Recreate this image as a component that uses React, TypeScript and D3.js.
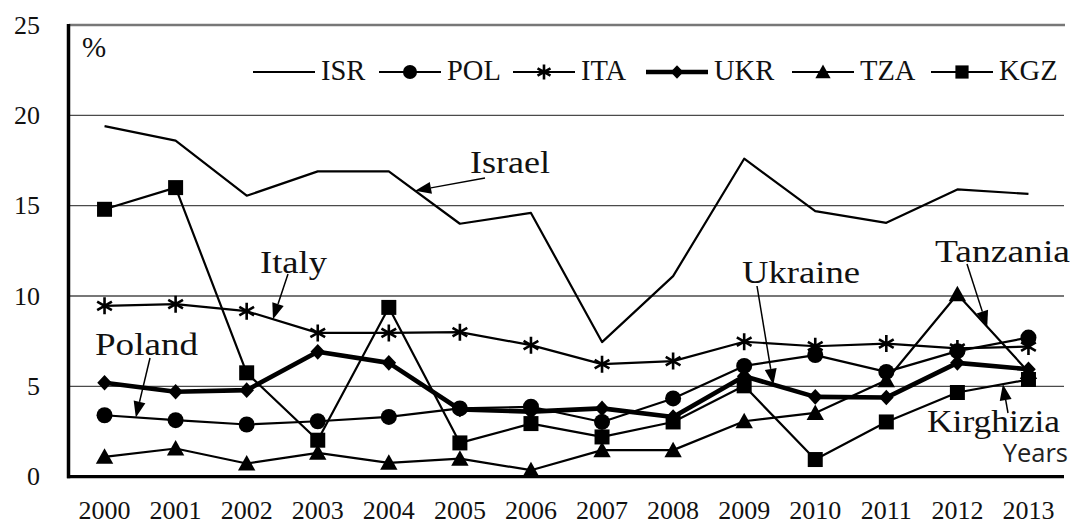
import React from "react";
import * as d3 from "d3";

// ---------- data ----------
const years = [2000, 2001, 2002, 2003, 2004, 2005, 2006, 2007, 2008, 2009, 2010, 2011, 2012, 2013];
const ISR = [19.4, 18.6, 15.55, 16.9, 16.9, 14.0, 14.6, 7.45, 11.1, 17.6, 14.7, 14.05, 15.9, 15.65];
const POL = [3.4, 3.13, 2.89, 3.07, 3.31, 3.78, 3.87, 3.03, 4.33, 6.13, 6.73, 5.8, 6.95, 7.7];
const ITA = [9.46, 9.55, 9.16, 7.96, 7.96, 8.0, 7.28, 6.23, 6.4, 7.47, 7.22, 7.37, 7.1, 7.2];
const UKR = [5.2, 4.7, 4.79, 6.91, 6.3, 3.72, 3.6, 3.78, 3.3, 5.56, 4.42, 4.38, 6.3, 5.95];
const TZA = [1.1, 1.56, 0.73, 1.32, 0.77, 1.0, 0.36, 1.47, 1.47, 3.07, 3.53, 5.34, 10.1, 5.8];
const KGZ = [14.8, 16.0, 5.75, 2.02, 9.37, 1.87, 2.94, 2.2, 3.03, 5.03, 0.95, 3.03, 4.66, 5.38];
const yTicks = [0, 5, 10, 15, 20, 25];
const seriesNames = ["ISR", "POL", "ITA", "UKR", "TZA", "KGZ"];
const seriesValues = [ISR, POL, ITA, UKR, TZA, KGZ];
const seriesMarkers = ["none", "circle", "star", "diamond", "triangle", "square"];

// annotations: label, series index, fractional year index where the arrow points
const annLabels = ["Israel", "Italy", "Poland", "Ukraine", "Tanzania", "Kirghizia"];
const annSeries = [0, 2, 1, 3, 4, 5];
const annAt = [4.37, 2.37, 0.44, 9.41, 12.42, 12.64];

// ---------- layout ----------
const W = 1074;
const H = 525;
const X0 = 69;
const X1 = 1064;
const Y0 = 476.7;
const Y1 = 25;

const annText = [
  { x: 470, y: 173, len: 80 },
  { x: 260, y: 273, len: 67 },
  { x: 95, y: 355, len: 103 },
  { x: 742, y: 283, len: 118 },
  { x: 935, y: 262, len: 135 },
  { x: 927, y: 432, len: 133 },
];
const annTail = [
  [485, 178],
  [288, 274],
  [150, 358],
  [757, 286],
  [967, 264],
  [1008, 413],
];
const legendX = [253, 379, 513, 646, 792, 931];
const legendY = 72;

function markerPath(type: string, s: number): string {
  if (type === "circle") {
    const r = 8 * s;
    return `M${-r},0A${r},${r} 0 1,0 ${r},0A${r},${r} 0 1,0 ${-r},0Z`;
  }
  if (type === "square") {
    const h = 7.5 * s;
    return `M${-h},${-h}H${h}V${h}H${-h}Z`;
  }
  if (type === "triangle") {
    const w = 8.7 * s;
    return `M0,${-8.5 * s}L${w},${7 * s}L${-w},${7 * s}Z`;
  }
  if (type === "diamond") {
    const w = 7.3 * s;
    const h = 7.8 * s;
    return `M0,${-h}L${w},0L0,${h}L${-w},0Z`;
  }
  if (type === "star") {
    const r = 8.5 * s;
    const t = r / 2;
    const u = t * Math.sqrt(3);
    return `M0,${r}L0,${-r}M${-u},${-t}L${u},${t}M${-u},${t}L${u},${-t}`;
  }
  return "";
}

function Marker({ type, x, y, s }: { type: string; x: number; y: number; s: number }) {
  if (type === "none") return null;
  const d = markerPath(type, s);
  if (type === "star") {
    return <path d={d} transform={`translate(${x},${y})`} fill="none" stroke="#000" strokeWidth={2.6} />;
  }
  return <path d={d} transform={`translate(${x},${y})`} fill="#000" stroke="none" />;
}

const SERIF = "Liberation Serif, Tinos, DejaVu Serif, serif";
const SANS = "Open Sans, Noto Sans, sans-serif";

export default function App() {
  const x = d3.scalePoint<number>().domain(years).range([X0, X1]).padding(0.5);
  const y = d3.scaleLinear().domain([0, 25]).range([Y0, Y1]);
  const step = x.step();

  const line = d3
    .line<number>()
    .x((_, i) => x(years[i]) as number)
    .y((v) => y(v));

  const pointAt = (vals: number[], t: number) => {
    const i = Math.min(Math.floor(t), vals.length - 2);
    const f = t - i;
    const px = (x(years[i]) as number) + f * step;
    const py = y(vals[i]) + f * (y(vals[i + 1]) - y(vals[i]));
    return [px, py];
  };

  const serifStyle = (size: number) => ({ fontFamily: SERIF, fontSize: `${size}px` });

  return (
    <div style={{ position: "absolute", left: 0, top: 0 }}>
      <svg width={W} height={H} style={{ display: "block", background: "#fff" }}>
        <rect x={0} y={0} width={W} height={H} fill="#fff" />
        {/* gridlines */}
        {yTicks.filter((t) => t > 0 && t < 25).map((t) => (
          <line key={t} x1={X0} x2={X1} y1={y(t)} y2={y(t)} stroke="#4a4a4a" strokeWidth={1.3} />
        ))}
        <line x1={X0} x2={X1 + 1} y1={y(25)} y2={y(25)} stroke="#777" strokeWidth={2.4} />
        {/* y tick labels */}
        {yTicks.map((t) => (
          <text key={t} x={40} y={y(t)} dy="0.33em" textAnchor="end" style={serifStyle(26)} fill="#111">
            {t}
          </text>
        ))}
        {/* x tick labels */}
        {years.map((yr) => (
          <text key={yr} x={x(yr)} y={519} textAnchor="middle" style={serifStyle(26)} fill="#111">
            {yr}
          </text>
        ))}
        <text x={82} y={57} style={serifStyle(29)} fill="#111">%</text>

        {/* series */}
        {seriesValues.map((vals, si) => (
          <g key={seriesNames[si]}>
            <path
              d={line(vals) || ""}
              fill="none"
              stroke="#000"
              strokeWidth={seriesNames[si] === "UKR" ? 4.6 : 2.2}
              strokeLinejoin="round"
            />
            {vals.map((v, i) => (
              <Marker key={i} type={seriesMarkers[si]} x={x(years[i]) as number} y={y(v)} s={1} />
            ))}
          </g>
        ))}

        {/* axes */}
        <line x1={X0 - 0.5} x2={X0 - 0.5} y1={Y1 - 1} y2={Y0 + 1.5} stroke="#000" strokeWidth={3.5} />
        <line x1={X0 - 2} x2={X1} y1={Y0} y2={Y0} stroke="#000" strokeWidth={3.2} />

        {/* legend */}
        {seriesNames.map((name, i) => {
          const lx = legendX[i];
          const len = 62;
          return (
            <g key={name}>
              <line x1={lx} x2={lx + len} y1={legendY} y2={legendY} stroke="#000" strokeWidth={name === "UKR" ? 4.6 : 2.2} />
              <Marker type={seriesMarkers[i]} x={lx + len / 2} y={legendY} s={0.88} />
              <text x={lx + len + 6} y={legendY + 8} style={serifStyle(28.5)} fill="#111">
                {name}
              </text>
            </g>
          );
        })}

        {/* annotations */}
        {annLabels.map((label, i) => {
          const [px, py] = pointAt(seriesValues[annSeries[i]], annAt[i]);
          const [tx, ty] = annTail[i];
          const dx = px - tx;
          const dy = py - ty;
          const L = Math.hypot(dx, dy);
          const ux = dx / L;
          const uy = dy / L;
          const hl = 16;
          const hw = 6;
          const bx = px - ux * hl;
          const by = py - uy * hl;
          const head = `M${px},${py}L${bx - uy * hw},${by + ux * hw}L${bx + uy * hw},${by - ux * hw}Z`;
          const t = annText[i];
          return (
            <g key={label}>
              <line x1={tx} y1={ty} x2={bx} y2={by} stroke="#000" strokeWidth={1.5} />
              <path d={head} fill="#000" />
              <text
                x={t.x}
                y={t.y}
                style={serifStyle(32)}
                textLength={t.len}
                lengthAdjust="spacingAndGlyphs"
                fill="#111"
              >
                {label}
              </text>
            </g>
          );
        })}
        <text
          x={1068}
          y={462}
          textAnchor="end"
          style={{ fontFamily: SANS, fontSize: "25.5px" }}
          fill="#222"
        >
          Years
        </text>
      </svg>
    </div>
  );
}
